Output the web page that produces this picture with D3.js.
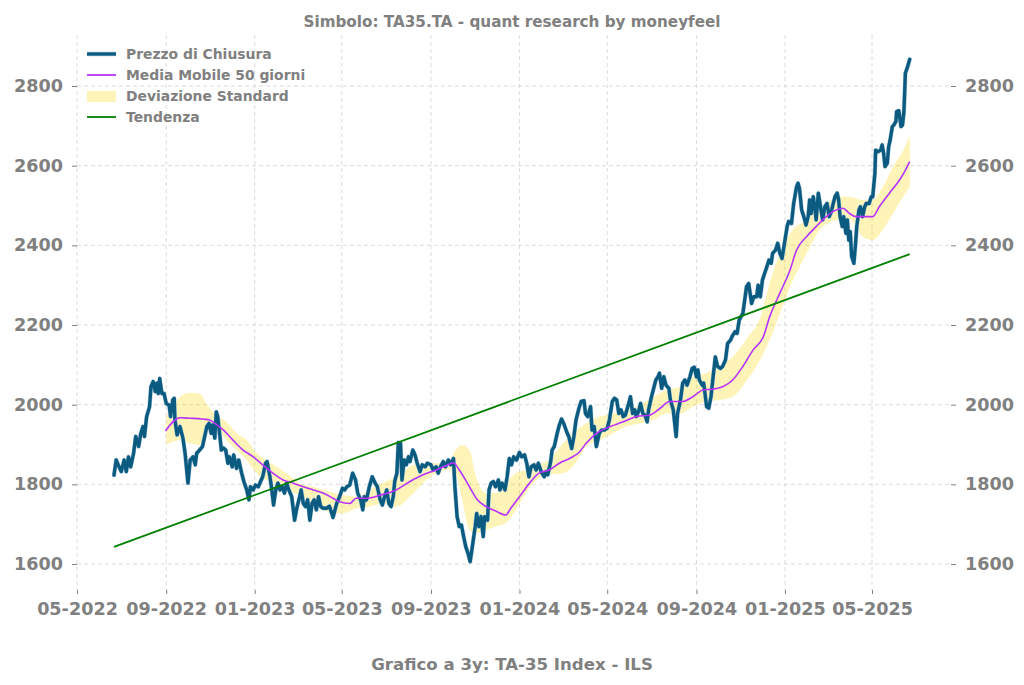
<!DOCTYPE html>
<html>
<head>
<meta charset="utf-8">
<script src="https://cdn.jsdelivr.net/npm/d3@7"></script>
<style>
  html, body { margin: 0; padding: 0; background: #fff; }
  svg { display: block; font-family: "DejaVu Sans", sans-serif; }
</style>
</head>
<body>
<svg id="chart" width="1024" height="685"></svg>
<script>
// ---------------- DATA ----------------
const chartTitle = "Simbolo: TA35.TA - quant research by moneyfeel";
const chartSubtitle = "Grafico a 3y: TA-35 Index - ILS";
const legendLabels = ["Prezzo di Chiusura", "Media Mobile 50 giorni", "Deviazione Standard", "Tendenza"];
const yTickValues = [1600, 1800, 2000, 2200, 2400, 2600, 2800];
const xTickFormat = "%m-%Y";

// Closing price (date, value)
const closePrice = [
["2022-06-21",1823],["2022-06-24",1861],["2022-06-28",1844],["2022-07-01",1832],["2022-07-05",1861],
["2022-07-08",1832],["2022-07-11",1869],["2022-07-14",1844],["2022-07-18",1878],["2022-07-21",1920],
["2022-07-25",1895],["2022-07-28",1928],["2022-07-31",1945],["2022-08-02",1920],["2022-08-05",1970],
["2022-08-09",1995],["2022-08-11",2045],["2022-08-14",2058],["2022-08-17",2033],["2022-08-19",2054],
["2022-08-21",2028],["2022-08-23",2066],["2022-08-26",2028],["2022-08-29",2028],["2022-09-01",2003],
["2022-09-05",1999],["2022-09-07",1970],["2022-09-10",2012],["2022-09-12",2016],["2022-09-13",1962],
["2022-09-16",1924],["2022-09-20",1945],["2022-09-24",1916],["2022-09-27",1878],["2022-10-01",1803],
["2022-10-04",1861],["2022-10-08",1869],["2022-10-11",1849],["2022-10-13",1878],["2022-10-17",1886],
["2022-10-21",1895],["2022-10-24",1920],["2022-10-27",1945],["2022-10-30",1953],["2022-11-02",1928],
["2022-11-04",1949],["2022-11-07",1916],["2022-11-09",1982],["2022-11-11",1970],["2022-11-14",1920],
["2022-11-16",1886],["2022-11-19",1891],["2022-11-22",1886],["2022-11-25",1853],["2022-11-27",1869],
["2022-12-01",1844],["2022-12-03",1874],["2022-12-07",1840],["2022-12-10",1861],["2022-12-14",1828],
["2022-12-17",1807],["2022-12-21",1786],["2022-12-24",1761],["2022-12-26",1794],["2022-12-30",1786],
["2023-01-02",1798],["2023-01-06",1794],["2023-01-09",1807],["2023-01-12",1819],["2023-01-16",1853],
["2023-01-18",1857],["2023-01-22",1819],["2023-01-24",1794],["2023-01-27",1748],["2023-01-30",1786],
["2023-02-02",1803],["2023-02-05",1786],["2023-02-08",1794],["2023-02-11",1778],["2023-02-14",1803],
["2023-02-17",1786],["2023-02-21",1769],["2023-02-25",1710],["2023-02-28",1740],["2023-03-04",1769],
["2023-03-06",1786],["2023-03-09",1752],["2023-03-12",1744],["2023-03-15",1761],["2023-03-18",1710],
["2023-03-21",1752],["2023-03-24",1761],["2023-03-27",1736],["2023-03-30",1769],["2023-04-02",1744],
["2023-04-05",1740],["2023-04-10",1740],["2023-04-14",1745],["2023-04-19",1717],["2023-04-24",1752],
["2023-04-28",1769],["2023-05-02",1790],["2023-05-05",1786],["2023-05-08",1794],["2023-05-12",1798],
["2023-05-16",1828],["2023-05-20",1811],["2023-05-23",1778],["2023-05-27",1761],["2023-05-30",1736],
["2023-06-01",1769],["2023-06-04",1761],["2023-06-08",1794],["2023-06-12",1819],["2023-06-16",1803],
["2023-06-19",1794],["2023-06-23",1761],["2023-06-26",1748],["2023-06-29",1769],["2023-07-02",1786],
["2023-07-05",1752],["2023-07-08",1744],["2023-07-11",1769],["2023-07-13",1807],["2023-07-16",1828],
["2023-07-18",1905],["2023-07-21",1903],["2023-07-23",1811],["2023-07-26",1861],["2023-07-29",1849],
["2023-08-01",1869],["2023-08-03",1857],["2023-08-07",1886],["2023-08-10",1874],["2023-08-13",1853],
["2023-08-17",1832],["2023-08-20",1849],["2023-08-24",1844],["2023-08-27",1853],["2023-09-01",1849],
["2023-09-04",1836],["2023-09-08",1844],["2023-09-11",1828],["2023-09-14",1844],["2023-09-18",1857],
["2023-09-21",1844],["2023-09-25",1861],["2023-09-28",1849],["2023-10-02",1865],["2023-10-04",1794],
["2023-10-07",1719],["2023-10-10",1694],["2023-10-13",1698],["2023-10-16",1669],["2023-10-19",1643],
["2023-10-22",1627],["2023-10-25",1606],["2023-10-28",1643],["2023-11-01",1694],["2023-11-03",1727],
["2023-11-06",1694],["2023-11-09",1719],["2023-11-12",1669],["2023-11-14",1719],["2023-11-18",1710],
["2023-11-20",1786],["2023-11-23",1803],["2023-11-26",1807],["2023-11-29",1794],["2023-12-03",1811],
["2023-12-05",1786],["2023-12-08",1803],["2023-12-12",1786],["2023-12-15",1819],["2023-12-18",1865],
["2023-12-21",1849],["2023-12-24",1869],["2023-12-28",1861],["2024-01-01",1880],["2024-01-04",1869],
["2024-01-08",1874],["2024-01-11",1853],["2024-01-14",1819],["2024-01-17",1844],["2024-01-21",1849],
["2024-01-24",1836],["2024-01-27",1853],["2024-01-31",1832],["2024-02-04",1819],["2024-02-07",1832],
["2024-02-09",1824],["2024-02-13",1857],["2024-02-15",1886],["2024-02-18",1895],["2024-02-22",1928],
["2024-02-25",1949],["2024-02-28",1964],["2024-03-02",1953],["2024-03-06",1932],["2024-03-09",1920],
["2024-03-13",1890],["2024-03-16",1920],["2024-03-19",1962],["2024-03-23",1991],["2024-03-26",2008],
["2024-03-30",2010],["2024-04-01",1978],["2024-04-04",1970],["2024-04-08",1995],["2024-04-10",1936],
["2024-04-13",1945],["2024-04-16",1895],["2024-04-20",1928],["2024-04-23",1936],["2024-04-27",1936],
["2024-05-01",1941],["2024-05-04",1962],["2024-05-08",2008],["2024-05-11",2016],["2024-05-14",2012],
["2024-05-17",1978],["2024-05-20",1987],["2024-05-23",1970],["2024-05-26",1974],["2024-05-30",1999],
["2024-06-02",2020],["2024-06-05",1978],["2024-06-08",1987],["2024-06-10",1970],["2024-06-13",1982],
["2024-06-16",2003],["2024-06-19",1978],["2024-06-22",1974],["2024-06-25",1957],["2024-06-27",1987],
["2024-07-01",2020],["2024-07-04",2041],["2024-07-07",2062],["2024-07-10",2070],["2024-07-12",2079],
["2024-07-15",2041],["2024-07-18",2070],["2024-07-21",2049],["2024-07-25",2041],["2024-07-27",2012],
["2024-07-31",1987],["2024-08-02",1953],["2024-08-04",1920],["2024-08-06",1978],["2024-08-10",2012],
["2024-08-13",2054],["2024-08-16",2062],["2024-08-19",2049],["2024-08-23",2070],["2024-08-26",2091],
["2024-08-29",2094],["2024-09-01",2070],["2024-09-03",2087],["2024-09-05",2062],["2024-09-09",2049],
["2024-09-11",2054],["2024-09-15",1995],["2024-09-18",1991],["2024-09-21",2020],["2024-09-24",2070],
["2024-09-27",2120],["2024-09-30",2096],["2024-10-04",2091],["2024-10-07",2096],["2024-10-11",2112],
["2024-10-14",2154],["2024-10-18",2162],["2024-10-20",2171],["2024-10-24",2183],["2024-10-27",2179],
["2024-10-30",2213],["2024-11-04",2229],["2024-11-09",2296],["2024-11-12",2304],["2024-11-16",2254],
["2024-11-19",2271],["2024-11-23",2271],["2024-11-25",2300],["2024-11-28",2271],["2024-12-01",2313],
["2024-12-04",2330],["2024-12-07",2346],["2024-12-10",2363],["2024-12-13",2355],["2024-12-15",2380],
["2024-12-19",2388],["2024-12-22",2405],["2024-12-25",2380],["2024-12-28",2367],["2025-01-01",2413],
["2025-01-04",2447],["2025-01-06",2460],["2025-01-10",2455],["2025-01-13",2505],["2025-01-17",2547],
["2025-01-19",2556],["2025-01-21",2543],["2025-01-24",2489],["2025-01-27",2472],["2025-01-30",2451],
["2025-02-02",2472],["2025-02-04",2514],["2025-02-06",2480],["2025-02-09",2522],["2025-02-11",2497],
["2025-02-13",2464],["2025-02-16",2531],["2025-02-19",2497],["2025-02-22",2464],["2025-02-25",2497],
["2025-02-28",2505],["2025-03-03",2472],["2025-03-06",2485],["2025-03-08",2501],["2025-03-11",2522],
["2025-03-14",2531],["2025-03-16",2514],["2025-03-18",2472],["2025-03-21",2447],["2025-03-23",2472],
["2025-03-26",2430],["2025-03-28",2464],["2025-03-30",2413],["2025-04-01",2434],["2025-04-03",2372],
["2025-04-06",2355],["2025-04-08",2397],["2025-04-10",2447],["2025-04-13",2489],["2025-04-15",2497],
["2025-04-18",2472],["2025-04-21",2497],["2025-04-23",2505],["2025-04-27",2505],["2025-04-30",2522],
["2025-05-02",2522],["2025-05-05",2581],["2025-05-06",2639],["2025-05-09",2635],["2025-05-13",2639],
["2025-05-15",2652],["2025-05-17",2631],["2025-05-19",2598],["2025-05-22",2606],["2025-05-24",2648],
["2025-05-26",2664],["2025-05-29",2698],["2025-05-31",2702],["2025-06-03",2711],["2025-06-04",2736],
["2025-06-07",2738],["2025-06-10",2698],["2025-06-12",2702],["2025-06-14",2736],["2025-06-15",2782],
["2025-06-16",2832],["2025-06-19",2848],["2025-06-22",2867]
];

// 50-day moving average (date, value)
const movingAvg50 = [
["2022-08-31",1934],["2022-09-20",1967],["2022-10-03",1966],["2022-10-30",1962],["2022-11-07",1953],
["2022-11-19",1936],["2022-12-02",1911],["2022-12-16",1886],["2022-12-30",1869],["2023-01-12",1849],
["2023-01-26",1828],["2023-02-09",1811],["2023-02-23",1803],["2023-03-09",1794],["2023-03-23",1786],
["2023-04-05",1778],["2023-04-19",1765],["2023-04-28",1756],["2023-05-12",1752],["2023-05-21",1765],
["2023-06-04",1765],["2023-06-23",1773],["2023-07-15",1786],["2023-08-03",1807],["2023-08-21",1824],
["2023-09-08",1836],["2023-09-21",1846],["2023-10-02",1854],["2023-10-10",1836],["2023-10-24",1794],
["2023-11-04",1761],["2023-11-16",1744],["2023-11-29",1733],["2023-12-13",1723],["2023-12-20",1740],
["2024-01-01",1769],["2024-01-15",1803],["2024-01-28",1828],["2024-02-11",1836],["2024-02-25",1853],
["2024-03-10",1865],["2024-03-23",1880],["2024-04-02",1903],["2024-04-16",1928],["2024-05-05",1945],
["2024-05-23",1957],["2024-06-10",1970],["2024-06-29",1974],["2024-07-13",1991],["2024-07-26",2008],
["2024-08-13",2008],["2024-08-27",2020],["2024-09-10",2037],["2024-09-24",2039],["2024-10-07",2045],
["2024-10-21",2062],["2024-11-04",2096],["2024-11-18",2137],["2024-12-02",2170],["2024-12-11",2221],
["2024-12-25",2280],["2025-01-08",2338],["2025-01-17",2388],["2025-01-31",2422],["2025-02-13",2447],
["2025-02-27",2472],["2025-03-13",2489],["2025-03-22",2493],["2025-03-31",2480],["2025-04-09",2472],
["2025-04-23",2472],["2025-05-02",2472],["2025-05-11",2497],["2025-05-25",2531],["2025-06-08",2564],
["2025-06-15",2585],["2025-06-22",2610]
];

// Standard-deviation band (date, lower, upper)
const stdBand = [
["2022-09-01",1899,1970],["2022-09-20",1911,2020],["2022-10-03",1903,2030],["2022-10-17",1899,2028],
["2022-10-26",1928,2003],["2022-11-09",1941,1974],["2022-11-23",1911,1957],["2022-12-07",1886,1928],
["2022-12-21",1861,1911],["2023-01-04",1828,1878],["2023-01-17",1811,1861],["2023-01-31",1803,1844],
["2023-02-14",1786,1828],["2023-03-04",1773,1803],["2023-03-23",1752,1794],["2023-04-14",1730,1782],
["2023-05-03",1727,1773],["2023-05-21",1740,1769],["2023-06-08",1744,1786],["2023-06-26",1752,1803],
["2023-07-15",1744,1819],["2023-08-03",1769,1844],["2023-08-21",1803,1853],["2023-09-08",1828,1853],
["2023-09-26",1836,1861],["2023-10-05",1828,1886],["2023-10-14",1761,1899],["2023-10-24",1685,1886],
["2023-11-02",1677,1819],["2023-11-16",1685,1778],["2023-11-29",1694,1778],["2023-12-13",1702,1803],
["2023-12-27",1736,1828],["2024-01-10",1778,1836],["2024-01-24",1811,1849],["2024-02-11",1824,1861],
["2024-03-01",1828,1903],["2024-03-17",1850,1932],["2024-04-02",1895,1953],["2024-04-21",1911,1970],
["2024-05-09",1928,1978],["2024-05-27",1945,1987],["2024-06-15",1953,1999],["2024-07-04",1962,2020],
["2024-07-21",1978,2037],["2024-08-09",1978,2045],["2024-08-27",1995,2070],["2024-09-14",2008,2079],
["2024-10-03",2012,2096],["2024-10-21",2020,2120],["2024-11-09",2060,2165],["2024-11-27",2110,2215],
["2024-12-15",2180,2330],["2025-01-08",2296,2430],["2025-01-31",2380,2464],["2025-02-22",2447,2497],
["2025-03-17",2464,2522],["2025-03-31",2464,2522],["2025-04-18",2422,2514],["2025-05-02",2413,2514],
["2025-05-16",2439,2547],["2025-05-30",2480,2598],["2025-06-13",2522,2639],["2025-06-22",2547,2677]
];

// Linear trend (date, value)
const trendLine = [["2022-06-21",1643],["2025-06-22",2378]];

// ---------------- CHART ----------------
const plot = {left: 77, right: 951, top: 35, bottom: 590};
const grey = "#808080";
const parse = d3.utcParse("%Y-%m-%d");

const x = d3.scaleUtc()
  .domain([parse("2022-05-01"), parse("2025-05-01")])
  .range([77, 872]);
const y = d3.scaleLinear()
  .domain([1600, 2800])
  .range([564, 86]);

const svg = d3.select("#chart");

// Grid
const xTicks = d3.utcMonth.every(4).range(parse("2022-05-01"), parse("2025-05-02"));
const grid = svg.append("g");
grid.selectAll("line.vx").data(xTicks).join("line")
  .attr("x1", d => x(d)).attr("x2", d => x(d))
  .attr("y1", plot.top).attr("y2", plot.bottom)
  .attr("stroke", "#d3d3d3").attr("stroke-width", 0.8).attr("stroke-dasharray", "4,3");
grid.selectAll("line.hy").data(yTickValues).join("line")
  .attr("x1", plot.left).attr("x2", plot.right)
  .attr("y1", d => y(d)).attr("y2", d => y(d))
  .attr("stroke", "#d3d3d3").attr("stroke-width", 0.8).attr("stroke-dasharray", "4,3");

// Axes
const fmt = d3.utcFormat(xTickFormat);
const xAxis = svg.append("g").attr("transform", `translate(0,${plot.bottom})`)
  .call(d3.axisBottom(x).tickValues(xTicks).tickFormat(fmt).tickSize(4).tickPadding(5));
const yAxisL = svg.append("g").attr("transform", `translate(${plot.left},0)`)
  .call(d3.axisLeft(y).tickValues(yTickValues).tickFormat(d3.format("d")).tickSize(5).tickPadding(9));
const yAxisR = svg.append("g").attr("transform", `translate(${plot.right},0)`)
  .call(d3.axisRight(y).tickValues(yTickValues).tickFormat(d3.format("d")).tickSize(5).tickPadding(9));
[xAxis, yAxisL, yAxisR].forEach(g => {
  g.select(".domain").remove();
  g.selectAll(".tick line").attr("stroke", grey).attr("stroke-width", 1);
  g.selectAll(".tick text").attr("fill", grey)
    .style("font-family", "'DejaVu Sans', sans-serif")
    .style("font-weight", "bold").style("font-size", "17.6px");
});
xAxis.selectAll(".tick text").attr("dy", "0.93em");

// Band
const band = d3.area()
  .x(d => x(parse(d[0])))
  .y0(d => y(d[1]))
  .y1(d => y(d[2]))
  .curve(d3.curveMonotoneX);
svg.append("path").datum(stdBand)
  .attr("d", band).attr("fill", "#ffd700").attr("fill-opacity", 0.28);

// Price
const line = d3.line().x(d => x(parse(d[0]))).y(d => y(d[1]));
svg.append("path").datum(closePrice)
  .attr("d", line).attr("fill", "none")
  .attr("stroke", "#b4cfe0").attr("stroke-width", 4.4)
  .attr("stroke-linejoin", "round").attr("stroke-linecap", "round");
svg.append("path").datum(closePrice)
  .attr("d", line).attr("fill", "none")
  .attr("stroke", "#0b5a80").attr("stroke-width", 3.4)
  .attr("stroke-linejoin", "round").attr("stroke-linecap", "round");

// Moving average
const smoothLine = d3.line().x(d => x(parse(d[0]))).y(d => y(d[1])).curve(d3.curveMonotoneX);
svg.append("path").datum(movingAvg50)
  .attr("d", smoothLine).attr("fill", "none")
  .attr("stroke", "#b833ff").attr("stroke-width", 1.6);

// Trend
svg.append("path").datum(trendLine)
  .attr("d", line).attr("fill", "none")
  .attr("stroke", "#008000").attr("stroke-width", 1.8);

// Legend
const legend = svg.append("g");
const rows = [54, 75, 96, 117];
legend.append("line").attr("x1", 87).attr("x2", 116).attr("y1", rows[0]).attr("y2", rows[0])
  .attr("stroke", "#b4cfe0").attr("stroke-width", 4.6);
legend.append("line").attr("x1", 87).attr("x2", 116).attr("y1", rows[0]).attr("y2", rows[0])
  .attr("stroke", "#0b5a80").attr("stroke-width", 3.3);
legend.append("line").attr("x1", 87).attr("x2", 116).attr("y1", rows[1]).attr("y2", rows[1])
  .attr("stroke", "#b833ff").attr("stroke-width", 1.8);
legend.append("rect").attr("x", 87).attr("y", rows[2] - 5).attr("width", 29).attr("height", 11)
  .attr("fill", "#ffd700").attr("fill-opacity", 0.28);
legend.append("line").attr("x1", 87).attr("x2", 116).attr("y1", rows[3]).attr("y2", rows[3])
  .attr("stroke", "#008000").attr("stroke-width", 1.8);
legend.selectAll("text").data(legendLabels).join("text")
  .attr("x", 126).attr("y", (d, i) => rows[i]).attr("dy", "0.36em")
  .attr("fill", grey).style("font-weight", "bold").style("font-size", "13.9px")
  .text(d => d);

// Titles
svg.append("text").attr("x", 512).attr("y", 22).attr("dy", "0.36em")
  .attr("text-anchor", "middle").attr("fill", grey)
  .style("font-weight", "bold").style("font-size", "15.2px").text(chartTitle);
svg.append("text").attr("x", 512).attr("y", 664).attr("dy", "0.36em")
  .attr("text-anchor", "middle").attr("fill", grey)
  .style("font-weight", "bold").style("font-size", "16.6px").text(chartSubtitle);
</script>
</body>
</html>
